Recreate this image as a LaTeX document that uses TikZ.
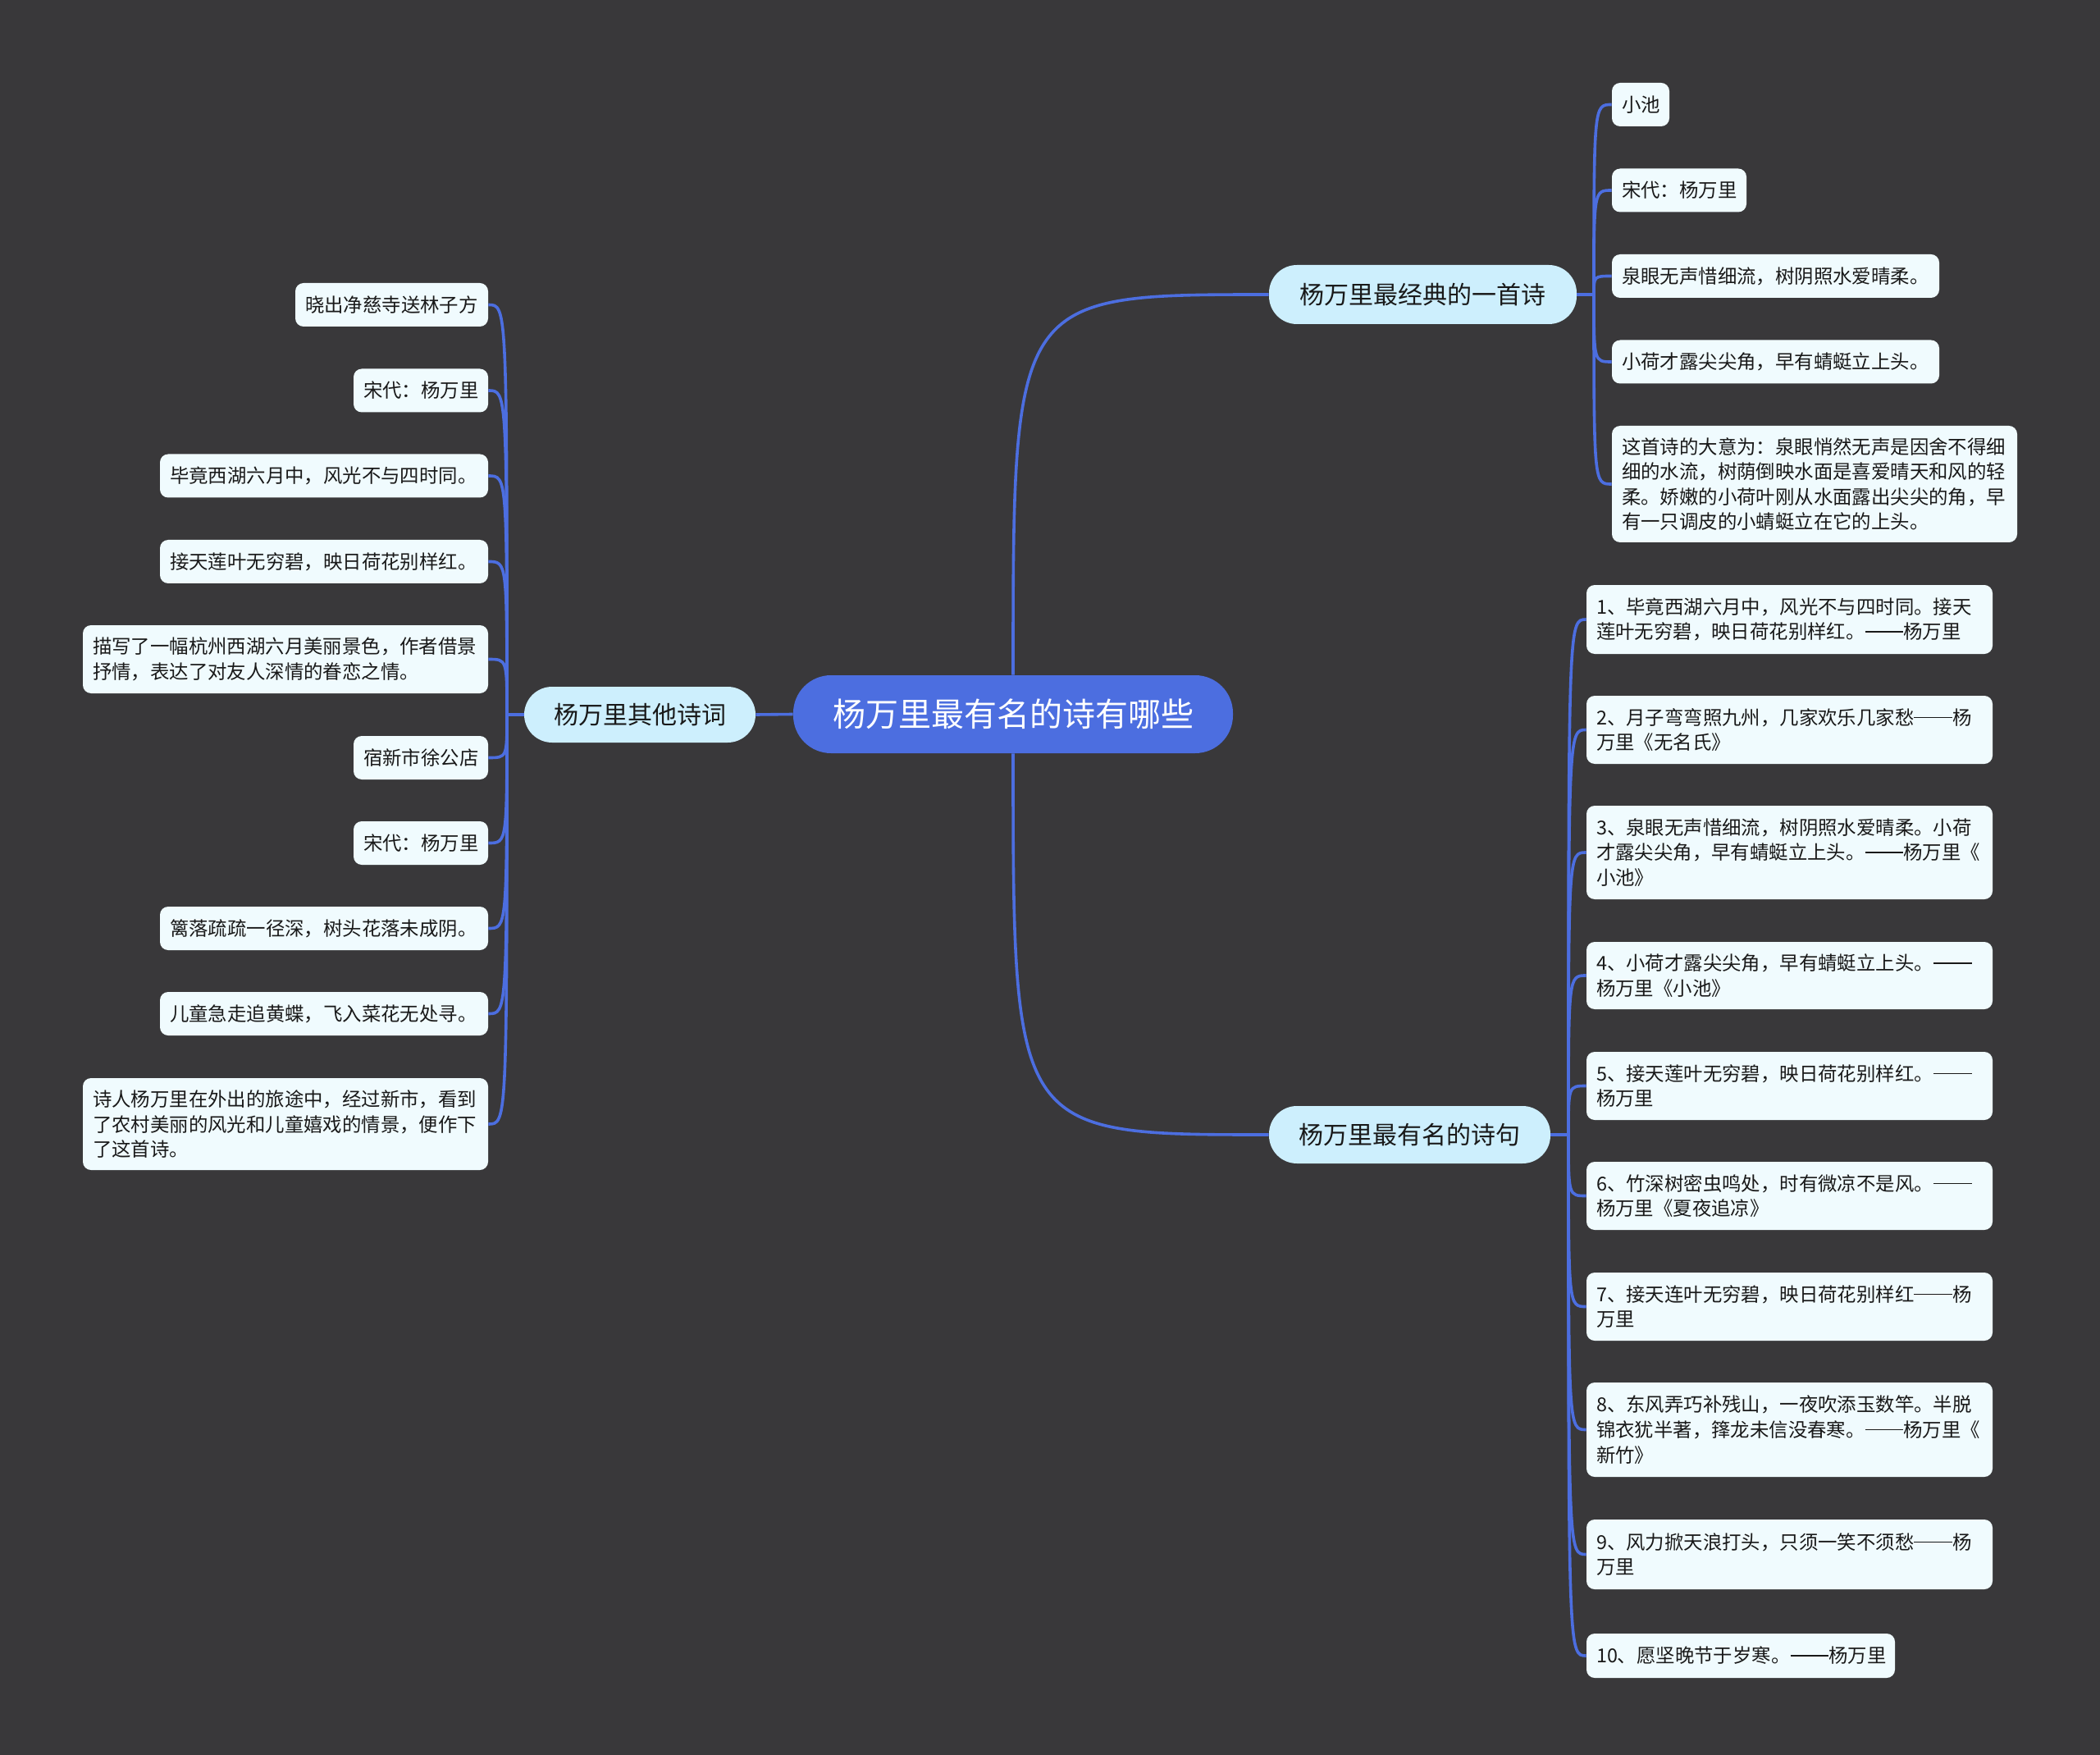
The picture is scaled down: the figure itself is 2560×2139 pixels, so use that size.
\documentclass[tikz,border=0pt]{standalone}
\usepackage{fontspec}
\setmainfont{Noto Sans CJK SC}
\definecolor{bgc}{RGB}{57,56,58}
\definecolor{linkc}{RGB}{76,110,224}
\definecolor{rootfill}{RGB}{76,110,224}
\definecolor{branchfill}{RGB}{205,239,253}
\definecolor{leaffill}{RGB}{240,251,254}
\definecolor{ink}{RGB}{25,25,25}
\newcommand\dashcjk{\makebox[2em][c]{\rule[0.34em]{2em}{0.065em}}}
\begin{document}
\begin{tikzpicture}[x=0.5pt,y=-0.5pt,
  leaf/.style={fill=leaffill, rounded corners=5pt, inner xsep=6pt, inner ysep=0pt, align=left, text=ink,
    font=\fontsize{11.7pt}{15.3pt}\selectfont, minimum height=26.5pt},
  branch/.style={fill=branchfill, rounded corners=17pt, inner sep=0pt, text=ink,
    font=\fontsize{15pt}{18pt}\selectfont},
  rootnode/.style={fill=rootfill, rounded corners=23pt, inner sep=0pt, text=white,
    font=\fontsize{20pt}{24pt}\selectfont},
  conn/.style={draw=linkc, line width=1.8pt}
]
\fill[bgc] (0,0) rectangle (2560,2139);
\useasboundingbox (0,0) rectangle (2560,2139);

% main nodes
\node[rootnode, minimum width=268pt, minimum height=47.5pt] (root) at (1235,870.5) {杨万里最有名的诗有哪些};
\node[branch, minimum width=141pt, minimum height=34pt] (bl) at (780,871) {杨万里其他诗词};
\node[branch, minimum width=187.5pt, minimum height=36pt] (b1) at (1734.5,359) {杨万里最经典的一首诗};
\node[branch, minimum width=171.5pt, minimum height=35pt] (b2) at (1718.5,1383) {杨万里最有名的诗句};

\coordinate (t1) at (1943,359);
\coordinate (t2) at (1912,1383);
\coordinate (tl) at (618,871);

% branch 1 leaves
\node[leaf, text width=23pt] (a1) at (2000,127.5) {小池};
\node[leaf, text width=70pt] (a2) at (2047,232) {宋代：杨万里};
\node[leaf, text width=187.5pt] (a3) at (2164.5,336.5) {泉眼无声惜细流，树阴照水爱晴柔。};
\node[leaf, text width=187.5pt] (a4) at (2164.5,441) {小荷才露尖尖角，早有蜻蜓立上头。};
\node[leaf, text width=235pt, minimum height=71pt] (a5) at (2212,590) {这首诗的大意为：泉眼悄然无声是因舍不得细\\细的水流，树荫倒映水面是喜爱晴天和风的轻\\柔。娇嫩的小荷叶刚从水面露出尖尖的角，早\\有一只调皮的小蜻蜓立在它的上头。};

% branch 2 leaves
\node[leaf, text width=235.5pt, minimum height=42pt] (c1) at (2181.5,755) {1、毕竟西湖六月中，风光不与四时同。接天\\莲叶无穷碧，映日荷花别样红。\dashcjk 杨万里};
\node[leaf, text width=235.5pt, minimum height=41.5pt] (c2) at (2181.5,889.5) {2、月子弯弯照九州，几家欢乐几家愁\dashcjk 杨\\万里《无名氏》};
\node[leaf, text width=235.5pt, minimum height=57pt] (c3) at (2181.5,1039) {3、泉眼无声惜细流，树阴照水爱晴柔。小荷\\才露尖尖角，早有蜻蜓立上头。\dashcjk 杨万里《\\小池》};
\node[leaf, text width=235.5pt, minimum height=41pt] (c4) at (2181.5,1189) {4、小荷才露尖尖角，早有蜻蜓立上头。\dashcjk\\杨万里《小池》};
\node[leaf, text width=235.5pt, minimum height=41.5pt] (c5) at (2181.5,1323.5) {5、接天莲叶无穷碧，映日荷花别样红。\dashcjk\\杨万里};
\node[leaf, text width=235.5pt, minimum height=41.5pt] (c6) at (2181.5,1457.5) {6、竹深树密虫鸣处，时有微凉不是风。\dashcjk\\杨万里《夏夜追凉》};
\node[leaf, text width=235.5pt, minimum height=41.5pt] (c7) at (2181.5,1592.5) {7、接天连叶无穷碧，映日荷花别样红\dashcjk 杨\\万里};
\node[leaf, text width=235.5pt, minimum height=57.5pt] (c8) at (2181.5,1742.5) {8、东风弄巧补残山，一夜吹添玉数竿。半脱\\锦衣犹半著，箨龙未信没春寒。\dashcjk 杨万里《\\新竹》};
\node[leaf, text width=235.5pt, minimum height=42.5pt] (c9) at (2181.5,1894.5) {9、风力掀天浪打头，只须一笑不须愁\dashcjk 杨\\万里};
\node[leaf, text width=176pt, minimum height=27pt] (c10) at (2122,2018) {10、愿坚晚节于岁寒。\dashcjk 杨万里};

% left leaves
\node[leaf, text width=105.5pt] (l1) at (477.5,371.5) {晓出净慈寺送林子方};
\node[leaf, text width=70pt] (l2) at (513,476) {宋代：杨万里};
\node[leaf, text width=188pt] (l3) at (395,580) {毕竟西湖六月中，风光不与四时同。};
\node[leaf, text width=188pt] (l4) at (395,684.5) {接天莲叶无穷碧，映日荷花别样红。};
\node[leaf, text width=235pt, minimum height=41.5pt] (l5) at (348,803.5) {描写了一幅杭州西湖六月美丽景色，作者借景\\抒情，表达了对友人深情的眷恋之情。};
\node[leaf, text width=70pt] (l6) at (513,923.5) {宿新市徐公店};
\node[leaf, text width=70pt] (l7) at (513,1027.5) {宋代：杨万里};
\node[leaf, text width=188pt] (l8) at (395,1131.5) {篱落疏疏一径深，树头花落未成阴。};
\node[leaf, text width=188pt] (l9) at (395,1235.5) {儿童急走追黄蝶，飞入菜花无处寻。};
\node[leaf, text width=235pt, minimum height=56pt] (l10) at (348,1370) {诗人杨万里在外出的旅途中，经过新市，看到\\了农村美丽的风光和儿童嬉戏的情景，便作下\\了这首诗。};

% connectors
\draw[conn] (root.west) -- (bl.east);
\draw[conn] (root.north) .. controls (root.north |- b1.west) .. (b1.west);
\draw[conn] (root.south) .. controls (root.south |- b2.west) .. (b2.west);

\draw[conn] (b1.east) -- (t1);
\foreach \n in {a1,a2,a3,a4,a5}
  \draw[conn] (t1) .. controls (t1 |- \n.west) .. (\n.west);

\draw[conn] (b2.east) -- (t2);
\foreach \n in {c1,c2,c3,c4,c5,c6,c7,c8,c9,c10}
  \draw[conn] (t2) .. controls (t2 |- \n.west) .. (\n.west);

\draw[conn] (bl.west) -- (tl);
\foreach \n in {l1,l2,l3,l4,l5,l6,l7,l8,l9,l10}
  \draw[conn] (tl) .. controls (tl |- \n.east) .. (\n.east);
\end{tikzpicture}
\end{document}
